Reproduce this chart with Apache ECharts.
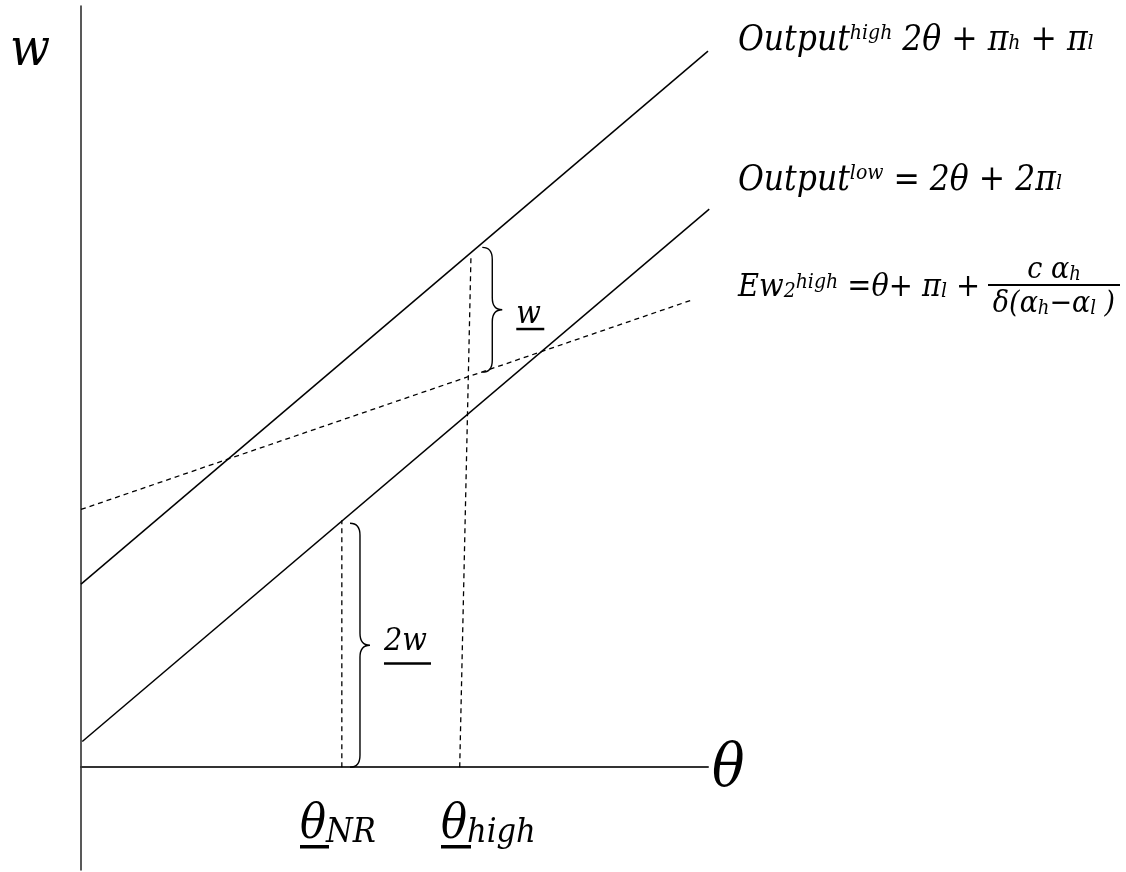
<!DOCTYPE html>
<html>
<head>
<meta charset="utf-8">
<title>Output and wages</title>
<script src="https://cdn.jsdelivr.net/npm/echarts@6/dist/echarts.min.js"></script>
</head>
<body style="margin:0;padding:0;background:#fff">
<div id="main" style="width:1126px;height:872px;"></div>
<script type="text/javascript">
var myChart = echarts.init(document.getElementById('main'));

// lines, in (theta, w) units
var outputHigh = [[0, 2.92], [10, 11.42]];
var outputLow = [[0.02, 0.41], [10.02, 8.90]];
var ewHigh = [[0, 4.11], [9.74, 7.45]];
var dropNR = [[4.16, 0], [4.16, 3.94]];
var dropHigh = [[6.04, 0], [6.22, 8.17]];
// braces: theta, top w, bottom w
var braces = [[4.29, 3.89, 0], [6.40, 8.29, 6.30]];
var braceLabels = ['2w', 'w'];
var xRange = [0, 10];
var yRange = [-1.64, 12.14];

var FONT = "'DejaVu Serif Condensed', 'DejaVu Serif', serif";

function st(size, va, pad) {
    var s = { fontSize: size, fontStyle: 'italic', fontFamily: FONT, fill: '#000' };
    if (va) s.verticalAlign = va;
    if (pad) s.padding = pad;
    return s;
}

function txt(x, y, text, size, rich, align) {
    return {
        type: 'text', x: x, y: y, silent: true,
        style: {
            text: text, fontSize: size, fontStyle: 'italic', fontFamily: FONT,
            fill: '#000', verticalAlign: 'middle', align: align || 'left', rich: rich || {}
        }
    };
}

var richBig = { sup: st(21, 'top'), sub: st(21, 'bottom', [0, 0, 4, 0]), m: st(35) };
var richEw = { sup: st(21, 'top'), sub: st(21, 'bottom', [0, 0, 2, 0]), m: st(32) };
var richFrac = { sub: st(20, 'bottom'), m: st(30) };
var richTheta = { sub: st(34, 'bottom'), m: st(48) };

function solid(data) {
    return { type: 'line', data: data, symbol: 'none', silent: true,
        lineStyle: { color: '#000', width: 1.5 } };
}
function dashed(data) {
    return { type: 'line', data: data, symbol: 'none', silent: true,
        lineStyle: { color: '#000', width: 1.3, type: [5, 4] } };
}

var braceDy = [12.5, 20.5];
var underDy = [4.5, -2.5];

option = {
    animation: false,
    backgroundColor: '#fff',
    grid: { left: 81, right: 418, top: 6, bottom: 2 },
    xAxis: {
        type: 'value', min: xRange[0], max: xRange[1],
        axisLine: { onZero: true, lineStyle: { color: '#333', width: 2 } },
        axisTick: { show: false }, axisLabel: { show: false }, splitLine: { show: false }
    },
    yAxis: {
        type: 'value', min: yRange[0], max: yRange[1],
        axisLine: { show: true, lineStyle: { color: '#222', width: 1.5 } },
        axisTick: { show: false }, axisLabel: { show: false }, splitLine: { show: false }
    },
    series: [
        solid(outputHigh),
        solid(outputLow),
        dashed(ewHigh),
        dashed(dropNR),
        dashed(dropHigh),
        {
            type: 'custom',
            silent: true,
            data: braces,
            renderItem: function (params, api) {
                var top = api.coord([api.value(0), api.value(1)]);
                var bot = api.coord([api.value(0), api.value(2)]);
                var x0 = top[0], yt = top[1], yb = bot[1], ym = (yt + yb) / 2;
                var path = 'M' + x0 + ',' + yt +
                    'Q' + (x0 + 10) + ',' + yt + ' ' + (x0 + 10) + ',' + (yt + 12) +
                    'L' + (x0 + 10) + ',' + (ym - 12) +
                    'Q' + (x0 + 10) + ',' + ym + ' ' + (x0 + 20) + ',' + ym +
                    'Q' + (x0 + 10) + ',' + ym + ' ' + (x0 + 10) + ',' + (ym + 12) +
                    'L' + (x0 + 10) + ',' + (yb - 12) +
                    'Q' + (x0 + 10) + ',' + yb + ' ' + x0 + ',' + yb;
                var i = params.dataIndex;
                var label = braceLabels[i];
                var lx = x0 + 34, ly = ym + braceDy[i];
                var uw = label.length > 1 ? 47 : 28;
                return {
                    type: 'group',
                    children: [
                        { type: 'path', shape: { pathData: path },
                          style: { stroke: '#000', fill: 'none', lineWidth: 1.4 } },
                        { type: 'text', x: lx, y: ly,
                          style: { text: label, fontSize: 32, fontStyle: 'italic', fontFamily: FONT,
                                   fill: '#000', verticalAlign: 'bottom' } },
                        { type: 'rect', shape: { x: lx, y: ly + underDy[i], width: uw, height: 2.5 },
                          style: { fill: '#000' } }
                    ]
                };
            }
        }
    ],
    graphic: [
        txt(10, 51, 'w', 52),
        txt(712, 770, 'θ', 60),
        txt(738, 41, '{m|Output}{sup|high}{m| 2θ + π}{sub|h}{m| + π}{sub|l}', 35, richBig),
        txt(738, 181, '{m|Output}{sup|low}{m| = 2θ + 2π}{sub|l}', 35, richBig),
        txt(738, 288, '{m|Ew}{sub|2}{sup|high}{m| =θ+ π}{sub|l}{m| +}', 32, richEw),
        txt(1054, 270, '{m|c α}{sub|h}', 30, richFrac, 'center'),
        { type: 'rect', silent: true, shape: { x: 988, y: 284, width: 132, height: 2 }, style: { fill: '#000' } },
        txt(1054, 304, '{m|δ(α}{sub|h}{m|−α}{sub|l}{m| )}', 30, richFrac, 'center'),
        txt(300, 826, '{m|θ}{sub|NR}', 48, richTheta),
        txt(441, 826, '{m|θ}{sub|high}', 48, richTheta),
        { type: 'rect', silent: true, shape: { x: 300, y: 845, width: 29, height: 3.5 }, style: { fill: '#000' } },
        { type: 'rect', silent: true, shape: { x: 441, y: 845, width: 30, height: 3.5 }, style: { fill: '#000' } }
    ]
};

myChart.setOption(option);
</script>
</body>
</html>
